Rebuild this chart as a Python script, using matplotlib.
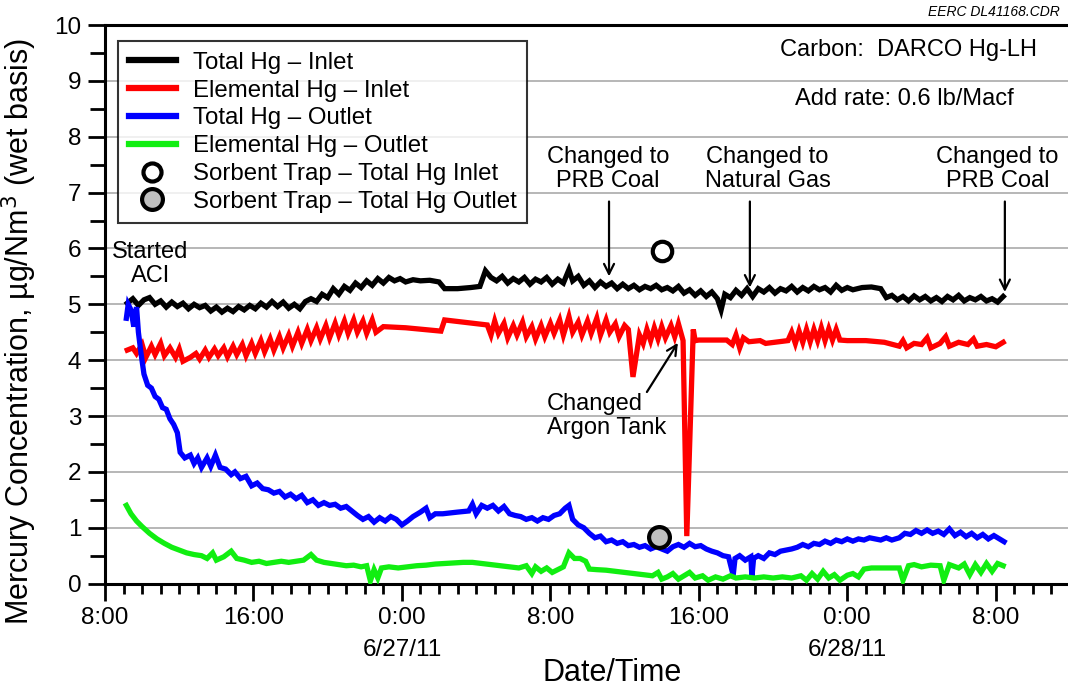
import matplotlib
matplotlib.use('Agg')
import matplotlib.pyplot as plt
from matplotlib.lines import Line2D
from matplotlib.ticker import FixedLocator, MultipleLocator

plt.rcParams['font.family'] = ['Liberation Sans', 'DejaVu Sans']

# ============================================================
# Data (time = clock hours counted from 6/26/11 0:00)
# ============================================================
tick_hours = [8, 16, 24, 32, 40, 48, 56]
tick_labels = ['8:00', '16:00', '0:00\n6/27/11', '8:00', '16:00', '0:00\n6/28/11', '8:00']

# Total Hg - Inlet
t_tot_in = [9.2, 9.5, 9.8, 10.1, 10.4, 10.7, 11.0, 11.3, 11.6, 11.9, 12.2, 12.5, 12.8, 13.1, 13.4,
            13.7, 14.0, 14.3, 14.6, 14.9, 15.2, 15.5, 15.8, 16.1, 16.4, 16.7, 17.0, 17.3, 17.6, 17.9,
            18.2, 18.5, 18.8, 19.1, 19.4, 19.7, 20.0, 20.3, 20.6, 20.9, 21.2, 21.5, 21.8, 22.1, 22.4,
            22.7, 23.0, 23.3, 23.6, 23.9, 24.2, 24.6, 25.0, 25.5, 26.0, 26.3, 27.0, 27.7, 28.2, 28.5,
            28.8, 29.1, 29.4, 29.7, 30.0, 30.3, 30.6, 30.9, 31.2, 31.5, 31.8, 32.1, 32.4, 32.7, 33.0,
            33.2, 33.5, 33.8, 34.1, 34.4, 34.7, 35.0, 35.3, 35.6, 35.9, 36.2, 36.5, 36.8, 37.1, 37.4,
            37.7, 38.0, 38.3, 38.6, 38.9, 39.2, 39.5, 39.8, 40.1, 40.4, 40.7, 41.0, 41.2, 41.4, 41.7,
            42.0, 42.3, 42.6, 42.9, 43.2, 43.5, 43.8, 44.1, 44.4, 44.7, 45.0, 45.3, 45.6, 45.9, 46.2,
            46.5, 46.8, 47.1, 47.4, 47.7, 48.0, 48.3, 48.8, 49.3, 49.8, 50.1, 50.4, 50.7, 51.0, 51.3,
            51.6, 51.9, 52.2, 52.5, 52.8, 53.1, 53.4, 53.7, 54.0, 54.3, 54.6, 54.9, 55.2, 55.5, 55.8,
            56.1, 56.4]
v_tot_in = [5.02, 5.10, 4.98, 5.08, 5.12, 5.00, 5.06, 4.95, 5.04, 4.96, 5.02, 4.92, 5.00, 4.94, 4.98,
            4.88, 4.95, 4.86, 4.93, 4.87, 4.96, 4.90, 4.98, 4.92, 5.02, 4.95, 5.05, 4.96, 5.04, 4.93,
            5.00, 4.92, 5.05, 5.10, 5.05, 5.18, 5.12, 5.28, 5.18, 5.32, 5.25, 5.38, 5.30, 5.42, 5.34,
            5.46, 5.38, 5.48, 5.42, 5.46, 5.40, 5.44, 5.42, 5.43, 5.40, 5.28, 5.28, 5.30, 5.32, 5.60,
            5.48, 5.42, 5.50, 5.38, 5.46, 5.40, 5.48, 5.36, 5.45, 5.40, 5.48, 5.36, 5.45, 5.38, 5.62,
            5.42, 5.50, 5.34, 5.42, 5.30, 5.40, 5.32, 5.38, 5.28, 5.36, 5.28, 5.34, 5.26, 5.32, 5.28,
            5.34, 5.26, 5.30, 5.24, 5.32, 5.20, 5.26, 5.16, 5.24, 5.14, 5.22, 5.10, 4.90, 5.18, 5.12,
            5.25, 5.16, 5.28, 5.14, 5.28, 5.22, 5.30, 5.20, 5.28, 5.24, 5.32, 5.22, 5.30, 5.24, 5.32,
            5.26, 5.30, 5.22, 5.34, 5.25, 5.30, 5.26, 5.30, 5.31, 5.28, 5.12, 5.16, 5.08, 5.14, 5.06,
            5.15, 5.08, 5.14, 5.06, 5.12, 5.05, 5.14, 5.08, 5.16, 5.06, 5.12, 5.08, 5.14, 5.06, 5.10,
            5.04, 5.14]

# Elemental Hg - Inlet
t_el_in = [9.2, 9.5, 9.7, 10.0, 10.2, 10.5, 10.7, 11.0, 11.2, 11.5, 11.8, 12.0, 12.2, 12.6, 12.9,
           13.1, 13.4, 13.6, 13.9, 14.1, 14.4, 14.6, 14.9, 15.1, 15.4, 15.6, 15.9, 16.1, 16.4, 16.6,
           16.9, 17.1, 17.4, 17.6, 17.9, 18.1, 18.4, 18.6, 18.9, 19.1, 19.4, 19.6, 19.9, 20.1, 20.4,
           20.6, 20.9, 21.1, 21.4, 21.6, 21.9, 22.1, 22.4, 22.6, 23.0, 24.2, 26.1, 26.3, 28.6, 28.8,
           29.0, 29.2, 29.5, 29.7, 30.0, 30.2, 30.5, 30.7, 31.0, 31.2, 31.5, 31.7, 32.0, 32.2, 32.5,
           32.7, 33.0, 33.2, 33.5, 33.7, 34.0, 34.2, 34.5, 34.7, 35.0, 35.2, 35.5, 35.7, 36.0, 36.2,
           36.45, 36.8, 37.0, 37.2, 37.4, 37.6, 37.8, 38.0, 38.2, 38.5, 38.7, 38.9, 39.15, 39.35, 39.7,
           39.8, 40.0, 41.5, 41.8, 42.0, 42.2, 42.4, 42.7, 43.3, 43.6, 44.8, 45.0, 45.2, 45.4, 45.6,
           45.8, 46.0, 46.2, 46.4, 46.6, 46.8, 47.0, 47.2, 47.4, 47.6, 48.0, 49.0, 50.0, 50.8, 51.0,
           51.2, 51.6, 52.0, 52.3, 52.5, 53.0, 53.3, 53.5, 54.0, 54.5, 54.8, 55.0, 55.5, 56.0, 56.4]
v_el_in = [4.18, 4.22, 4.12, 4.28, 4.05, 4.25, 4.10, 4.30, 4.08, 4.22, 4.05, 4.20, 3.98, 4.05, 4.12,
           4.02, 4.18, 4.05, 4.20, 4.08, 4.22, 4.06, 4.25, 4.10, 4.28, 4.08, 4.30, 4.12, 4.35, 4.15,
           4.38, 4.18, 4.42, 4.22, 4.45, 4.25, 4.50, 4.30, 4.55, 4.35, 4.58, 4.38, 4.62, 4.40, 4.66,
           4.45, 4.70, 4.48, 4.72, 4.50, 4.70, 4.48, 4.72, 4.50, 4.60, 4.58, 4.52, 4.72, 4.63, 4.45,
           4.70, 4.48, 4.66, 4.40, 4.62, 4.45, 4.68, 4.42, 4.60, 4.38, 4.62, 4.42, 4.66, 4.48, 4.72,
           4.45, 4.78, 4.50, 4.68, 4.45, 4.70, 4.48, 4.75, 4.45, 4.72, 4.50, 4.65, 4.42, 4.62, 4.55,
           3.70, 4.45, 4.30, 4.55, 4.35, 4.58, 4.38, 4.60, 4.40, 4.62, 4.42, 4.65, 4.35, 0.85, 4.55,
           4.35, 4.36, 4.36, 4.28, 4.45, 4.22, 4.40, 4.33, 4.35, 4.30, 4.35, 4.50, 4.30, 4.52, 4.32,
           4.55, 4.33, 4.55, 4.35, 4.58, 4.35, 4.56, 4.36, 4.55, 4.36, 4.35, 4.35, 4.32, 4.25, 4.35,
           4.22, 4.30, 4.28, 4.40, 4.22, 4.30, 4.42, 4.25, 4.32, 4.28, 4.38, 4.25, 4.28, 4.24, 4.32]

# Total Hg - Outlet
t_tot_out = [9.15, 9.25, 9.4, 9.55, 9.7, 9.8, 9.95, 10.1, 10.3, 10.5, 10.7, 10.9, 11.1, 11.3, 11.5,
             11.7, 11.9, 12.05, 12.3, 12.6, 12.8, 13.0, 13.2, 13.5, 13.7, 13.95, 14.2, 14.5, 14.8, 15.0,
             15.3, 15.6, 15.9, 16.2, 16.5, 16.8, 17.1, 17.4, 17.7, 18.0, 18.3, 18.6, 18.9, 19.2, 19.5,
             19.8, 20.1, 20.4, 20.7, 21.0, 21.3, 21.6, 21.9, 22.2, 22.5, 22.8, 23.1, 23.4, 23.7, 24.0,
             24.3, 24.6, 25.0, 25.3, 25.5, 25.8, 26.2, 27.0, 27.6, 27.8, 28.0, 28.3, 28.6, 28.9, 29.2,
             29.5, 29.8, 30.1, 30.4, 30.7, 31.0, 31.3, 31.6, 31.9, 32.2, 32.5, 32.8, 33.0, 33.2, 33.5,
             33.8, 34.1, 34.4, 34.7, 35.0, 35.3, 35.6, 35.9, 36.2, 36.5, 36.8, 37.1, 37.4, 37.7, 38.0,
             38.3, 38.6, 38.9, 39.2, 39.5, 39.8, 40.1, 40.4, 40.7, 41.0, 41.3, 41.6, 41.85, 41.95, 42.2,
             42.5, 42.8, 42.86, 42.95, 43.2, 43.5, 43.8, 44.1, 44.4, 44.7, 45.0, 45.3, 45.6, 45.9, 46.2,
             46.5, 46.8, 47.1, 47.4, 47.7, 48.0, 48.3, 48.6, 48.9, 49.2, 49.5, 49.8, 50.1, 50.4, 50.8,
             51.1, 51.4, 51.7, 52.0, 52.3, 52.6, 52.9, 53.2, 53.5, 53.8, 54.1, 54.4, 54.7, 55.0, 55.3,
             55.6, 55.9, 56.2, 56.45]
v_tot_out = [4.75, 5.00, 4.90, 4.60, 4.95, 4.50, 4.10, 3.75, 3.55, 3.50, 3.35, 3.30, 3.15, 3.12, 2.95,
             2.85, 2.70, 2.35, 2.25, 2.30, 2.15, 2.25, 2.08, 2.25, 2.10, 2.30, 2.08, 2.05, 1.95, 2.00,
             1.88, 1.92, 1.75, 1.80, 1.70, 1.68, 1.62, 1.65, 1.55, 1.60, 1.52, 1.58, 1.45, 1.50, 1.40,
             1.45, 1.40, 1.42, 1.35, 1.38, 1.30, 1.22, 1.15, 1.20, 1.10, 1.18, 1.12, 1.20, 1.15, 1.05,
             1.12, 1.20, 1.28, 1.35, 1.18, 1.25, 1.25, 1.28, 1.30, 1.42, 1.25, 1.40, 1.35, 1.40, 1.30,
             1.38, 1.25, 1.22, 1.20, 1.15, 1.18, 1.12, 1.18, 1.15, 1.22, 1.25, 1.35, 1.40, 1.15, 1.05,
             1.00, 0.90, 0.82, 0.85, 0.75, 0.78, 0.72, 0.75, 0.68, 0.70, 0.65, 0.68, 0.62, 0.66, 0.62,
             0.58, 0.66, 0.70, 0.65, 0.72, 0.66, 0.68, 0.62, 0.58, 0.55, 0.50, 0.48, 0.15, 0.45, 0.50,
             0.42, 0.48, 0.12, 0.45, 0.50, 0.45, 0.55, 0.52, 0.58, 0.60, 0.62, 0.65, 0.70, 0.66, 0.72,
             0.70, 0.76, 0.72, 0.78, 0.75, 0.80, 0.76, 0.80, 0.78, 0.82, 0.80, 0.78, 0.82, 0.78, 0.82,
             0.90, 0.88, 0.95, 0.90, 0.96, 0.90, 0.94, 0.88, 0.98, 0.86, 0.92, 0.84, 0.90, 0.82, 0.88,
             0.80, 0.86, 0.80, 0.75]

# Elemental Hg - Outlet
t_el_out = [9.15, 9.4, 9.7, 10.0, 10.4, 10.8, 11.2, 11.6, 12.0, 12.4, 12.8, 13.2, 13.5, 13.8, 14.0,
            14.4, 14.8, 15.1, 15.5, 15.9, 16.3, 16.7, 17.1, 17.5, 17.9, 18.3, 18.7, 19.1, 19.4, 19.8,
            20.2, 20.6, 21.0, 21.4, 21.8, 22.1, 22.3, 22.5, 22.7, 22.9, 23.3, 23.8, 24.3, 24.8, 25.3,
            25.8, 26.3, 26.8, 27.3, 27.8, 28.3, 28.8, 29.3, 29.8, 30.3, 30.7, 31.0, 31.2, 31.5, 31.8,
            32.1, 32.4, 32.7, 33.0, 33.3, 33.6, 33.9, 34.1, 34.5, 35.0, 35.5, 36.0, 36.5, 37.0, 37.5,
            37.8, 38.0, 38.3, 38.6, 38.9, 39.2, 39.5, 39.8, 40.2, 40.5, 40.9, 41.3, 41.7, 42.0, 42.5,
            43.0, 43.5, 44.0, 44.5, 45.0, 45.5, 45.8, 46.1, 46.4, 46.7, 47.0, 47.3, 47.6, 48.0, 48.3,
            48.6, 48.9, 49.3, 50.0, 50.8, 51.0, 51.3, 51.6, 52.0, 52.5, 53.0, 53.2, 53.5, 54.0, 54.3,
            54.6, 54.9, 55.2, 55.5, 55.8, 56.1, 56.4]
v_el_out = [1.40, 1.25, 1.12, 1.02, 0.90, 0.80, 0.72, 0.65, 0.60, 0.55, 0.52, 0.50, 0.45, 0.55, 0.42,
            0.48, 0.58, 0.45, 0.42, 0.38, 0.40, 0.36, 0.38, 0.40, 0.38, 0.40, 0.42, 0.52, 0.42, 0.38,
            0.36, 0.34, 0.32, 0.33, 0.30, 0.32, 0.05, 0.25, 0.10, 0.28, 0.30, 0.28, 0.30, 0.32, 0.33,
            0.35, 0.36, 0.37, 0.38, 0.38, 0.36, 0.34, 0.32, 0.30, 0.28, 0.32, 0.18, 0.30, 0.22, 0.28,
            0.20, 0.25, 0.30, 0.55, 0.45, 0.45, 0.40, 0.26, 0.25, 0.24, 0.22, 0.20, 0.18, 0.16, 0.14,
            0.20, 0.08, 0.12, 0.18, 0.08, 0.14, 0.20, 0.10, 0.14, 0.06, 0.12, 0.08, 0.14, 0.10, 0.12,
            0.10, 0.12, 0.10, 0.12, 0.10, 0.14, 0.06, 0.18, 0.08, 0.22, 0.10, 0.16, 0.06, 0.15, 0.18,
            0.12, 0.26, 0.28, 0.28, 0.28, 0.06, 0.32, 0.34, 0.30, 0.33, 0.32, 0.06, 0.34, 0.28, 0.35,
            0.16, 0.34, 0.20, 0.36, 0.22, 0.36, 0.32]

# Sorbent trap results
trap_in_t, trap_in_v = [38.0], [5.95]
trap_out_t, trap_out_v = [37.85], [0.83]

# ============================================================
# Figure
# ============================================================
fig = plt.figure(figsize=(10.68, 6.87), dpi=100)
ax = fig.add_axes([105 / 1068, 1 - 583.6 / 687, 965 / 1068, 558.6 / 687])

line_kw = dict(lw=3.8, solid_joinstyle='miter', zorder=3)
ax.plot(t_tot_in, v_tot_in, color='black', **line_kw)
ax.plot(t_el_in, v_el_in, color='#ff0000', **line_kw)
ax.plot(t_tot_out, v_tot_out, color='#0000ff', **line_kw)
ax.plot(t_el_out, v_el_out, color='#11ee11', **line_kw)
ax.plot(trap_in_t, trap_in_v, 'o', ms=14, mfc='white', mec='black', mew=3, zorder=5)
ax.plot(trap_out_t, trap_out_v, 'o', ms=15, mfc='#c0c0c0', mec='black', mew=3, zorder=5)

ax.set_xlim(8, 60)
ax.set_ylim(0, 10)
ax.xaxis.set_major_locator(FixedLocator(tick_hours))
ax.set_xticklabels(tick_labels, fontsize=17.5, linespacing=1.55)
ax.xaxis.set_minor_locator(MultipleLocator(1))
ax.yaxis.set_major_locator(MultipleLocator(1))
ax.yaxis.set_minor_locator(MultipleLocator(0.5))
ax.tick_params(axis='both', which='major', direction='out', length=12, width=2,
               labelsize=17.5, pad=5)
ax.tick_params(axis='y', which='minor', direction='out', length=11, width=2)
ax.tick_params(axis='x', which='minor', direction='out', length=7, width=2)
ax.grid(axis='y', color='#aaaaaa', lw=1.2)
ax.set_axisbelow(True)
for s in ['left', 'bottom', 'top']:
    ax.spines[s].set_linewidth(2.2)
ax.spines['right'].set_visible(False)

ax.set_ylabel('Mercury Concentration, µg/Nm$^3$ (wet basis)', fontsize=22)
ax.yaxis.set_label_coords(-0.068, 0.452)
ax.set_xlabel('Date/Time', fontsize=22, va='top')
ax.xaxis.set_label_coords((612 - 105) / 965, -0.133)

# annotations
txt = dict(fontsize=17, ha='center', va='center', linespacing=1.1)
ax.text(10.45, 5.72, 'Started\nACI', **txt)
ax.text(51.3, 9.56, 'Carbon:  DARCO Hg-LH', **txt)
ax.text(51.1, 8.67, 'Add rate: 0.6 lb/Macf', **txt)
ax.text(35.1, 7.42, 'Changed to\nPRB Coal', **txt)
ax.text(43.7, 7.42, 'Changed to\nNatural Gas', **txt)
ax.text(56.1, 7.42, 'Changed to\nPRB Coal', **txt)
ax.text(31.8, 3.0, 'Changed\nArgon Tank', fontsize=17, ha='left', va='center', linespacing=1.1)

arrow = dict(arrowstyle='->', color='black', lw=1.6, shrinkA=0, shrinkB=0,
             mutation_scale=18)
ax.annotate('', xy=(35.16, 5.5), xytext=(35.16, 6.84), arrowprops=arrow)
ax.annotate('', xy=(42.75, 5.3), xytext=(42.75, 6.84), arrowprops=arrow)
ax.annotate('', xy=(56.49, 5.22), xytext=(56.49, 6.84), arrowprops=arrow)
ax.annotate('', xy=(38.87, 4.31), xytext=(37.2, 3.43), arrowprops=arrow)

fig.text(1060 / 1068, 1 - 12 / 687, 'EERC DL41168.CDR', fontsize=10, style='italic',
         ha='right', va='center')

handles = [
    Line2D([], [], color='black', lw=4.5),
    Line2D([], [], color='#ff0000', lw=4.5),
    Line2D([], [], color='#0000ff', lw=4.5),
    Line2D([], [], color='#11ee11', lw=4.5),
    Line2D([], [], ls='none', marker='o', ms=13, mfc='white', mec='black', mew=3),
    Line2D([], [], ls='none', marker='o', ms=15, mfc='#c0c0c0', mec='black', mew=3),
]
labels = ['Total Hg – Inlet', 'Elemental Hg – Inlet', 'Total Hg – Outlet',
          'Elemental Hg – Outlet', 'Sorbent Trap – Total Hg Inlet',
          'Sorbent Trap – Total Hg Outlet']
leg = ax.legend(handles, labels, loc='upper left', bbox_to_anchor=(0.0135, 0.9713),
                borderaxespad=0, fontsize=17.3, frameon=True, fancybox=False,
                labelspacing=0.24, handlelength=1.95, handletextpad=0.7, borderpad=0.45)
leg.get_frame().set_edgecolor('black')
leg.get_frame().set_linewidth(1.5)

plt.savefig('out.png', dpi=100)
